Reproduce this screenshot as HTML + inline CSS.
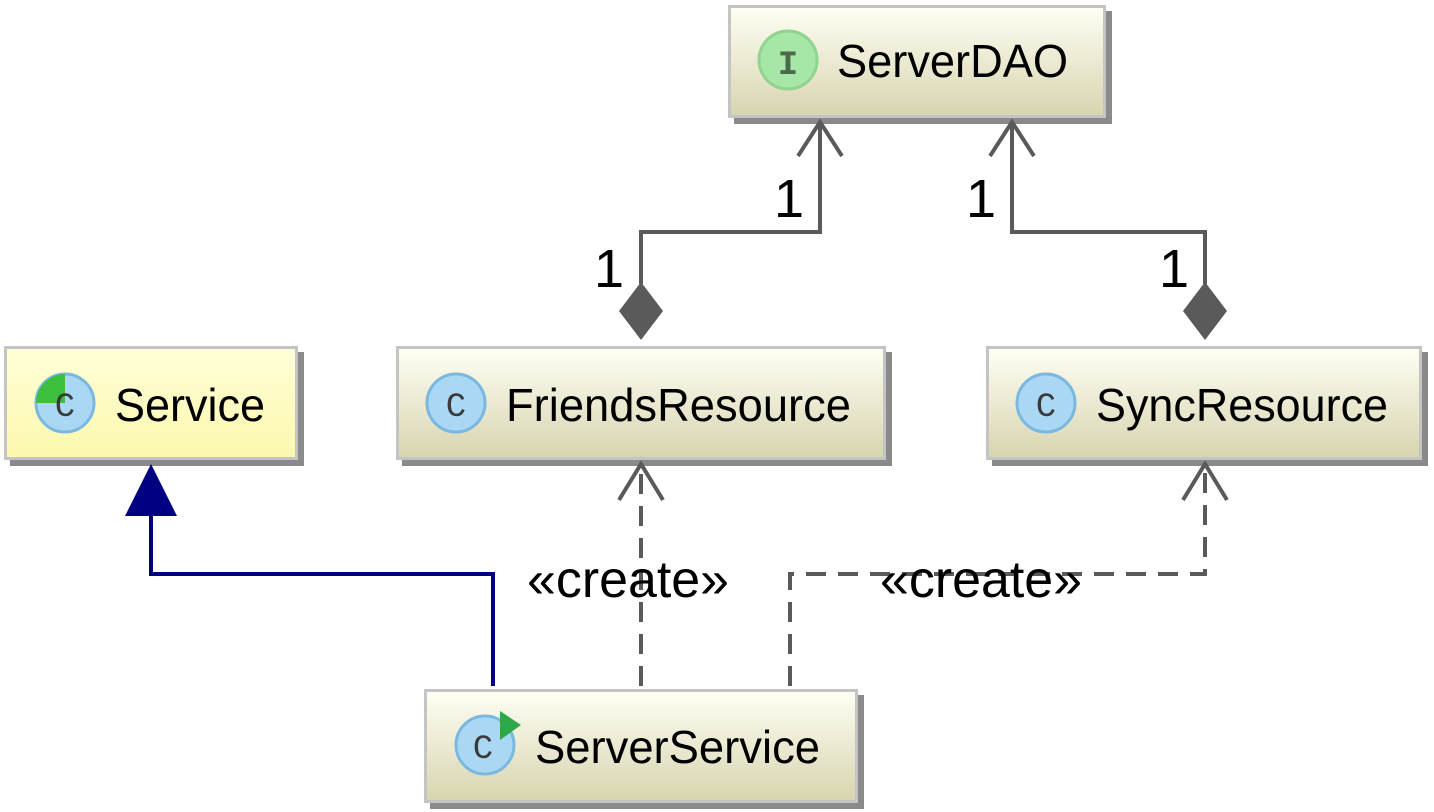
<!DOCTYPE html>
<html><head><style>
body{margin:0;width:1434px;height:812px;background:#fff;overflow:hidden;position:relative;font-family:"Liberation Sans",sans-serif}
.b{position:absolute;box-sizing:border-box;border:3px solid #c4c4c4;background:linear-gradient(#fefef4,#d8d5b0);box-shadow:6px 6px 0 #8a8a8a}
.b.y{background:linear-gradient(#ffffd8,#fcf8ae)}
svg{position:absolute;left:0;top:0}
</style></head><body>
<div class="b" style="left:728px;top:5px;width:378px;height:113px"></div>
<div class="b y" style="left:4px;top:346px;width:294px;height:114px"></div>
<div class="b" style="left:396px;top:346px;width:490px;height:114px"></div>
<div class="b" style="left:986px;top:346px;width:436px;height:114px"></div>
<div class="b" style="left:424px;top:689px;width:434px;height:114px"></div>
<svg width="1434" height="812" viewBox="0 0 1434 812">
<g font-family="Liberation Sans, sans-serif" font-size="46">
<text x="837" y="77" textLength="231" lengthAdjust="spacingAndGlyphs">ServerDAO</text>
<text x="115" y="421" textLength="150" lengthAdjust="spacingAndGlyphs">Service</text>
<text x="506" y="421" textLength="345" lengthAdjust="spacingAndGlyphs">FriendsResource</text>
<text x="1096" y="421" textLength="292" lengthAdjust="spacingAndGlyphs">SyncResource</text>
<text x="535" y="763" textLength="285" lengthAdjust="spacingAndGlyphs">ServerService</text>
</g>
<circle cx="788" cy="60" r="29" fill="#a6e6a6" stroke="#8fd48f" stroke-width="3"/>
<text x="788" y="74" font-family="Liberation Mono, monospace" font-size="34" font-weight="bold" fill="#4a6a4a" text-anchor="middle">I</text>
<g font-family="Liberation Mono, monospace" font-size="34" fill="#3a3a3a" text-anchor="middle">
<circle cx="65" cy="403" r="29" fill="#aad8f4" stroke="#7ab8e0" stroke-width="3"/>
<path d="M65 403 L65 374 A29 29 0 0 0 36 403 Z" fill="#3cbf3c"/>
<text x="65" y="416">C</text>
<circle cx="456" cy="403" r="29" fill="#aad8f4" stroke="#7ab8e0" stroke-width="3"/>
<text x="456" y="416">C</text>
<circle cx="1046" cy="403" r="29" fill="#aad8f4" stroke="#7ab8e0" stroke-width="3"/>
<text x="1046" y="416">C</text>
<circle cx="485" cy="745" r="29" fill="#aad8f4" stroke="#7ab8e0" stroke-width="3"/>
<text x="483" y="758">C</text>
<path d="M500 711 L521 725 L500 740 Z" fill="#2ea84a"/>
</g>
<g stroke="#5a5a5a" stroke-width="4" fill="none">
<polyline points="641,284 641,232 820,232 820,122"/>
<polyline points="798,156 820,122 842,156"/>
<polyline points="1205,284 1205,232 1012,232 1012,122"/>
<polyline points="990,156 1012,122 1034,156"/>
</g>
<path d="M641 282 L663 311 L641 340 L619 311 Z" fill="#5a5a5a"/>
<path d="M1205 282 L1227 311 L1205 340 L1183 311 Z" fill="#5a5a5a"/>
<g font-family="Liberation Sans, sans-serif" font-size="54">
<text x="774" y="217">1</text>
<text x="594" y="287">1</text>
<text x="966" y="217">1</text>
<text x="1159" y="287">1</text>
</g>
<g stroke="#5a5a5a" stroke-width="4" fill="none">
<polyline points="641,686 641,468" stroke-dasharray="20,12"/>
<polyline points="619,500 641,464 663,500"/>
<polyline points="790,686 790,574 1205,574 1205,468" stroke-dasharray="20,12"/>
<polyline points="1183,500 1205,464 1227,500"/>
</g>
<g font-family="Liberation Sans, sans-serif" font-size="52">
<text x="628" y="597" text-anchor="middle" textLength="202" lengthAdjust="spacingAndGlyphs">«create»</text>
<text x="981" y="597" text-anchor="middle" textLength="202" lengthAdjust="spacingAndGlyphs">«create»</text>
</g>
<polyline points="493,686 493,574 151,574 151,515" stroke="#000080" stroke-width="4" fill="none"/>
<path d="M151 464 L177 516 L125 516 Z" fill="#000080"/>
</svg>
</body></html>
